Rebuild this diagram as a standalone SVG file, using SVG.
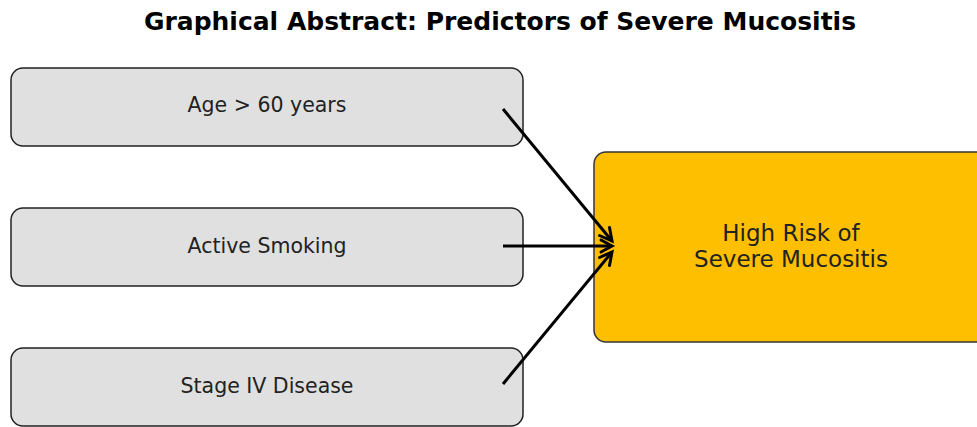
<svg xmlns="http://www.w3.org/2000/svg" width="977" height="427" viewBox="0 0 977 427">
<style>
.box{fill:#e0e0e0;stroke:#222;stroke-width:1.5}
.risk{fill:#fdbf00;stroke:#333;stroke-width:1.5}
.lbl{font-family:"DejaVu Sans",sans-serif;font-size:20.5px;fill:#222;text-anchor:middle}
.big{font-family:"DejaVu Sans",sans-serif;font-size:23px;fill:#222;text-anchor:middle}
.title{font-family:"DejaVu Sans",sans-serif;font-size:25px;font-weight:bold;fill:#000;text-anchor:middle}
.con{stroke:#000;stroke-width:3;fill:none}
.head{stroke:#000;stroke-width:3;fill:none;stroke-linecap:round}
</style>
<rect width="977" height="427" fill="#fff"/>
<text class="title" x="500" y="30">Graphical Abstract: Predictors of Severe Mucositis</text>
<g id="age"><rect class="box" x="11" y="68" width="512" height="78" rx="12"/><text class="lbl" x="267" y="112">Age &gt; 60 years</text></g>
<g id="smoking"><rect class="box" x="11" y="208" width="512" height="78" rx="12"/><text class="lbl" x="267" y="253">Active Smoking</text></g>
<g id="stage"><rect class="box" x="11" y="348" width="512" height="78" rx="12"/><text class="lbl" x="267" y="393">Stage IV Disease</text></g>
<g id="risk"><rect class="risk" x="594" y="152" width="395" height="190" rx="12"/><text class="big" x="791" y="241">High Risk of</text><text class="big" x="791" y="267">Severe Mucositis</text></g>
<g id="connectors">
<line class="con" x1="503" y1="109" x2="612" y2="241"/>
<path class="head" d="M599.5,235.5 L612,241 L609.5,227.5"/>
<line class="con" x1="503" y1="246" x2="612" y2="246"/>
<path class="head" d="M601,240 L612,246 L601,252"/>
<line class="con" x1="503" y1="384" x2="612" y2="252"/>
<path class="head" d="M609.5,265.5 L612,252 L599.5,257.5"/>
</g>
</svg>
